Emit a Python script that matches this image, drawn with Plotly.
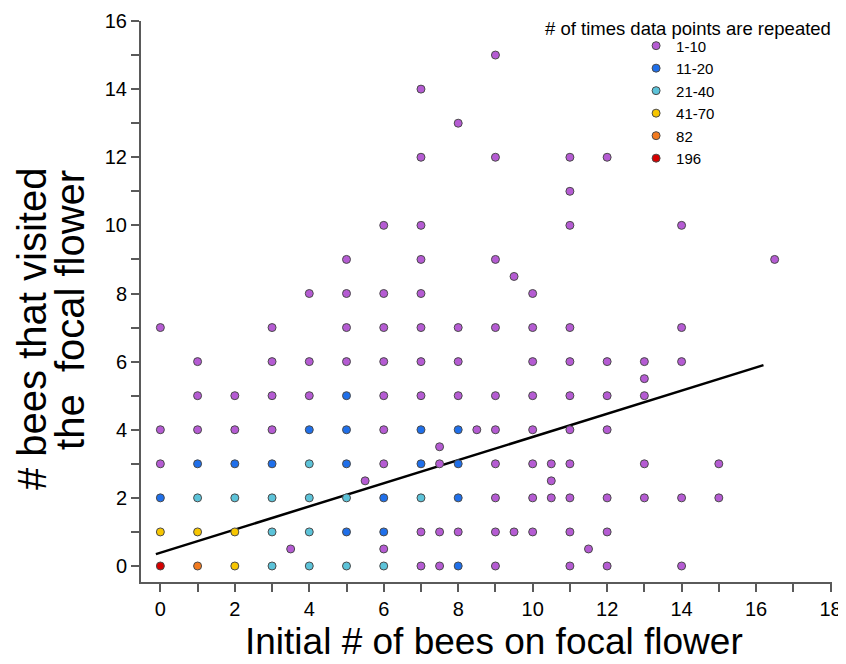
import plotly.graph_objects as go

# ---- data ----
cat_labels = ["1-10", "11-20", "21-40", "41-70", "82", "196"]
cat_colors = ["#B55BD3", "#1F6FEA", "#5CC3D9", "#F7C600", "#F27A1E", "#D60000"]

purple_x = [0, 0, 0, 1, 1, 1, 2, 2, 3, 3, 3, 3, 3.5, 4, 4, 4, 5, 5, 5, 5, 5.5,
            6, 6, 6, 6, 6, 6, 6, 6,
            7, 7, 7, 7, 7, 7, 7, 7, 7, 7,
            7.5, 7.5, 7.5, 7.5,
            8, 8, 8, 8, 8, 8.5,
            9, 9, 9, 9, 9, 9, 9, 9, 9, 9,
            9.5, 9.5,
            10, 10, 10, 10, 10, 10, 10, 10,
            10.5, 10.5, 10.5,
            11, 11, 11, 11, 11, 11, 11, 11, 11, 11, 11,
            11.5,
            12, 12, 12, 12, 12, 12, 12,
            13, 13, 13, 13, 13,
            14, 14, 14, 14, 14,
            15, 15, 16.5]
purple_y = [7, 4, 3, 6, 5, 4, 5, 4, 7, 6, 5, 4, 0.5, 8, 6, 5, 9, 8, 7, 6, 2.5,
            10, 8, 7, 6, 5, 4, 3, 0.5,
            14, 12, 10, 9, 8, 7, 6, 5, 1, 0,
            3.5, 3, 1, 0,
            13, 7, 6, 5, 1, 4,
            15, 12, 9, 7, 5, 4, 3, 2, 1, 0,
            8.5, 1,
            8, 7, 6, 5, 4, 3, 2, 1,
            3, 2.5, 2,
            12, 11, 10, 7, 6, 5, 4, 3, 2, 1, 0,
            0.5,
            12, 6, 5, 4, 2, 1, 0,
            6, 5.5, 5, 3, 2,
            10, 7, 6, 2, 0,
            3, 2, 9]

blue_x = [0, 1, 2, 3, 4, 5, 5, 5, 5, 6, 6, 7, 7, 8, 8, 8, 8]
blue_y = [2, 3, 3, 3, 4, 5, 4, 3, 1, 2, 1, 4, 3, 4, 3, 2, 0]

cyan_x = [1, 2, 3, 3, 3, 4, 4, 4, 4, 5, 5, 6, 7]
cyan_y = [2, 2, 2, 1, 0, 3, 2, 1, 0, 2, 0, 0, 2]

yellow_x = [0, 1, 2, 2]
yellow_y = [1, 1, 1, 0]

orange_x = [1]
orange_y = [0]

red_x = [0]
red_y = [0]

# regression line
fit_intercept = 0.39
fit_slope = 0.34
fit_x = [-0.12, 16.2]

x_tick_vals = list(range(0, 19))
x_tick_text = [str(v) if v % 2 == 0 else "" for v in x_tick_vals]
y_tick_vals = list(range(0, 17))
y_tick_text = [str(v) if v % 2 == 0 else "" for v in y_tick_vals]

series_x = [purple_x, blue_x, cyan_x, yellow_x, orange_x, red_x]
series_y = [purple_y, blue_y, cyan_y, yellow_y, orange_y, red_y]

FONT = "Liberation Sans, Arial, Helvetica, sans-serif"

fig = go.Figure()

fig.add_trace(go.Scatter(
    x=fit_x, y=[fit_intercept + fit_slope * v for v in fit_x],
    mode="lines", line=dict(color="black", width=2.5),
    showlegend=False, hoverinfo="skip"))

for lab, col, xs, ys in zip(cat_labels, cat_colors, series_x, series_y):
    fig.add_trace(go.Scatter(
        x=xs, y=ys, mode="markers", name=lab,
        marker=dict(size=8, color=col, line=dict(color="#4a4a4a", width=1))))

axis_common = dict(
    showgrid=False, zeroline=False, showline=True, linecolor="#5a5a5a",
    linewidth=2, ticks="outside", ticklen=8, tickwidth=2, tickcolor="#5a5a5a",
    tickfont=dict(family=FONT, size=20, color="black"), tickmode="array",
    automargin=False)

fig.update_xaxes(range=[-0.52, 18.04], tickvals=x_tick_vals,
                 ticktext=x_tick_text, **axis_common)
fig.update_yaxes(range=[-0.47, 16.0], tickvals=y_tick_vals,
                 ticktext=y_tick_text, **axis_common)

# The page body adds an 8px margin, so the figure is 8px smaller than the window.
fig.update_layout(
    width=838, height=656,
    margin=dict(l=133, r=14, t=13, b=82, autoexpand=False),
    plot_bgcolor="white", paper_bgcolor="white",
    font=dict(family=FONT, color="black"),
    legend=dict(x=0.7165, y=0.985, xanchor="left", yanchor="top",
                font=dict(family=FONT, size=15), itemwidth=30,
                tracegroupgap=0, bgcolor="rgba(0,0,0,0)"),
    annotations=[
        dict(text="# of times data points are repeated", x=0.7916, y=0.9875,
             xref="paper", yref="paper", showarrow=False,
             font=dict(family=FONT, size=18.5), xanchor="center", yanchor="middle"),
        dict(text="Initial # of bees on focal flower", x=0.511, y=-0.1052,
             xref="paper", yref="paper", showarrow=False,
             font=dict(family=FONT, size=37), xanchor="center", yanchor="middle"),
        dict(text="# bees that visited", x=-0.1577, y=0.451, textangle=-90,
             xref="paper", yref="paper", showarrow=False,
             font=dict(family=FONT, size=40), xanchor="center", yanchor="middle"),
        dict(text="the  focal flower", x=-0.1027, y=0.485, textangle=-90,
             xref="paper", yref="paper", showarrow=False,
             font=dict(family=FONT, size=40), xanchor="center", yanchor="middle"),
    ],
)

fig.write_html("out.html")
